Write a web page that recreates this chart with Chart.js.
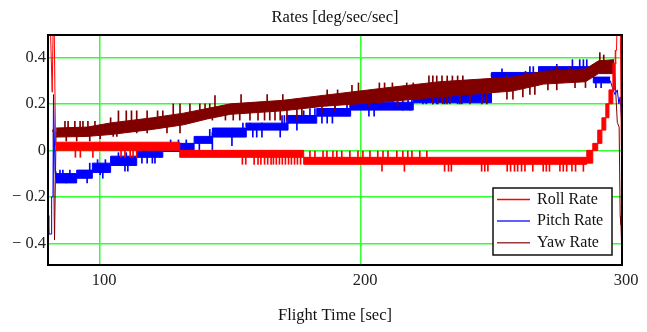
<!DOCTYPE html>
<html lang="en">
<head>
<meta charset="UTF-8">
<title>Rates [deg/sec/sec]</title>
<script src="https://cdn.jsdelivr.net/npm/chart.js"></script>
<style>
    html, body { margin: 0; padding: 0; background: #fff; }
    #wrap { position: relative; width: 647px; height: 332px; }
</style>
</head>
<body>
<div id="wrap"><canvas id="ratesChart"></canvas></div>
<script>
// ---- data (time in sec, rates in deg/sec/sec) ----
const xTicks = [100, 200, 300];
const yTicks = [-0.4, -0.2, 0, 0.2, 0.4];

// Roll Rate
const rollStartT = [80.5, 81.6, 82.2, 82.9];
const rollStartV = [0.7, 0.25, 0.7, 0.02];
const rollBandT  = [82.9, 130.5, 178, 286.5, 288.8, 290.7, 292.3, 293.8, 295, 296.5, 297.4, 297.9];
const rollBandLo = [0.0, -0.03, -0.06, -0.055, 0.0, 0.03, 0.087, 0.14, 0.2, 0.26, 0.375, 0.375];
const rollBandHi = [0.035, 0.0, -0.03, 0.0, 0.03, 0.087, 0.14, 0.2, 0.26, 0.375, 0.43, 0.43];
const rollEndT   = [297.9, 298.3, 299.3, 300];
const rollEndV   = [0.43, 0.65, 0.62, -0.35];
const rollSpikes = [
    [90.5, -0.03], [92.4, -0.03], [97.2, -0.03], [108, -0.03], [109.5, -0.03], [111.5, -0.03], [112.6, -0.03], [114, -0.03],
    [154.5, -0.06], [155.8, -0.06], [159, -0.06], [160.5, -0.06], [161.6, -0.06], [163, -0.06], [164.2, -0.06], [165.5, -0.06],
    [166.4, -0.06], [167.5, -0.06], [168.7, -0.06], [169.8, -0.06], [171, -0.06], [172.2, -0.06], [173.3, -0.06], [174.5, -0.06],
    [175.6, -0.06], [176.8, -0.06],
    [180.4, 0.0], [182.3, 0.0], [185.4, 0.0], [186.9, 0.0], [189.2, 0.0], [190.7, 0.0], [192.6, 0.0], [195.7, 0.0], [198.8, 0.0],
    [200.7, 0.0], [203.4, 0.0], [206.4, 0.0], [208.4, 0.0], [210.3, 0.0], [213.7, 0.0], [216, 0.0], [217.9, 0.0], [219.5, 0.0],
    [222.5, 0.0], [225.2, 0.0],
    [208, -0.09], [216.6, -0.09], [232, -0.09], [233.5, -0.09], [234.6, -0.09], [246.2, -0.09], [247.4, -0.09], [248.6, -0.09],
    [256, -0.09], [257.3, -0.09], [258.8, -0.09], [260, -0.09], [261.5, -0.09], [262.8, -0.09], [265.8, -0.09], [269.8, -0.09],
    [271, -0.09], [272.2, -0.09], [276.2, -0.09], [277.5, -0.09], [278.8, -0.09], [280.8, -0.09], [282.2, -0.09], [285.2, -0.09]
];

// Pitch Rate
const pitchStartT = [80, 80.3, 81.2, 81.4, 81.9, 82.1, 82.7, 83];
const pitchStartV = [-0.28, -0.36, -0.36, -0.2, -0.2, 0.24, -0.09, -0.12];
const pitchBandT  = [83, 91, 97, 104, 114, 124, 136, 143, 156, 172, 183, 196, 220, 250, 268, 289, 295.5];
const pitchBandLo = [-0.14, -0.12, -0.095, -0.065, -0.03, -0.005, 0.03, 0.057, 0.087, 0.117, 0.147, 0.173, 0.205, 0.3, 0.32, 0.29, 0.29];
const pitchBandHi = [-0.1, -0.085, -0.055, -0.025, 0.0, 0.03, 0.06, 0.096, 0.117, 0.15, 0.18, 0.207, 0.245, 0.335, 0.36, 0.315, 0.315];
const pitchEndT   = [295.5, 296.3, 297.3, 298.2, 298.8, 299.3, 300];
const pitchEndV   = [0.3, 0.27, 0.24, 0.26, 0.2, 0.23, 0.09];
const pitchSpikes = [
    [84.6, -0.085], [85.7, -0.085], [88.4, -0.085], [96, -0.055], [99, -0.04], [102, -0.04], [107, -0.01], [110, -0.01],
    [117, 0.015], [120, 0.015], [127, 0.045], [130, 0.045], [133, 0.045], [142, 0.09], [143.5, 0.09], [144.7, 0.09],
    [147.8, 0.09], [149, 0.09], [154.7, 0.117], [156, 0.117], [157.4, 0.117], [162, 0.117], [169.7, 0.15], [170.6, 0.15],
    [171.6, 0.15], [178, 0.17], [180.4, 0.18], [182.3, 0.18], [190, 0.19], [194.6, 0.207], [195.8, 0.207], [197, 0.207],
    [205, 0.23], [212, 0.23], [216, 0.23], [218, 0.23], [219.5, 0.23], [240, 0.3], [243, 0.3], [250, 0.33], [252, 0.33],
    [254, 0.35], [264.7, 0.36], [266, 0.36], [275, 0.37], [281, 0.39], [283.8, 0.39], [285.2, 0.39], [286.5, 0.39],
    [87, -0.14], [95, -0.14], [100, -0.105], [101, -0.12], [109.5, -0.09], [110.6, -0.09], [116, -0.055], [118, -0.055],
    [120, -0.055], [121, -0.055], [138, 0.0], [143, 0.0], [150.5, 0.02], [158.5, 0.057], [160, 0.057], [162, 0.057],
    [169, 0.057], [175.4, 0.087], [185, 0.117], [187, 0.117], [189, 0.117], [203, 0.147], [205, 0.147], [216, 0.173],
    [218.7, 0.173], [223.7, 0.2], [225, 0.2], [227.5, 0.2], [229, 0.2], [232, 0.2], [237, 0.2], [238.6, 0.2],
    [262, 0.29], [272, 0.3], [284, 0.31], [290, 0.27], [292, 0.27]
];

// Yaw Rate (band edges joined by straight lines, it drifts up smoothly)
const yawStartT = [81.7, 82.0, 82.5, 83.1];
const yawStartV = [0.08, 0.09, -0.385, 0.08];
const yawBandT  = [83.1, 95, 104, 120, 132, 141, 150, 170, 186, 209, 230, 258, 270, 286, 291, 297];
const yawBandLo = [0.057, 0.06, 0.068, 0.09, 0.11, 0.135, 0.155, 0.17, 0.19, 0.208, 0.23, 0.255, 0.285, 0.295, 0.33, 0.33];
const yawBandHi = [0.096, 0.1, 0.118, 0.14, 0.16, 0.18, 0.2, 0.215, 0.237, 0.268, 0.295, 0.315, 0.34, 0.35, 0.385, 0.39];
const yawEndT   = [297, 297.6, 298.2, 298.9, 299.3, 299.6, 300];
const yawEndV   = [0.36, 0.25, 0.12, 0.1, -0.28, -0.32, -0.47];
const yawSpikes = [
    [86.5, 0.125], [87.7, 0.125], [90.3, 0.125], [92.3, 0.125], [93.4, 0.125], [95.3, 0.125], [98, 0.125], [104, 0.14],
    [107, 0.17], [110, 0.17], [112, 0.17], [114, 0.17], [118, 0.17], [122, 0.17], [124, 0.17], [128, 0.2], [130.6, 0.2],
    [134.4, 0.2], [138.2, 0.2], [140.2, 0.2], [142, 0.2], [144, 0.235], [154, 0.24], [164, 0.24], [170, 0.24], [187, 0.26],
    [191, 0.26], [196.5, 0.28], [199, 0.29], [207, 0.29], [209, 0.29], [212, 0.29], [217.5, 0.29], [220, 0.29], [226, 0.32],
    [227.5, 0.32], [229, 0.32], [231, 0.32], [233, 0.32], [235, 0.32], [237, 0.32], [239, 0.32], [256, 0.33], [263, 0.34],
    [275, 0.36], [280, 0.36], [291.5, 0.42], [293, 0.41],
    [87, 0.04], [91, 0.04], [96, 0.04], [100, 0.05], [105, 0.06], [106.4, 0.06], [114, 0.075], [118, 0.075], [125.6, 0.075],
    [130.6, 0.075], [143, 0.13], [148, 0.13], [151, 0.13], [153.5, 0.13], [157.4, 0.13], [160.5, 0.13], [163, 0.13],
    [165, 0.13], [167, 0.13], [169, 0.13], [171.6, 0.13], [175.4, 0.13], [177.3, 0.15], [185, 0.16], [190, 0.17], [203, 0.19],
    [214, 0.19], [227.5, 0.2], [229.4, 0.2], [231.3, 0.2], [232.9, 0.2], [234, 0.2], [237.9, 0.2], [241.7, 0.2], [246.3, 0.2],
    [248.2, 0.2], [255.9, 0.22], [258.2, 0.22], [262, 0.23], [264.7, 0.24], [266.6, 0.24], [271.6, 0.26], [275, 0.26], [282, 0.27],
    [286, 0.27]
];

const legendItems = [
    { label: 'Roll Rate',  color: '#ff0000' },
    { label: 'Pitch Rate', color: '#2a2aff' },
    { label: 'Yaw Rate',   color: '#9a3a3a' }
];

// ---- helpers ----
const serif = "'Liberation Serif', 'Times New Roman', serif";

function pts(T, V) {
    return T.map((t, i) => ({ x: t, y: V[i] }));
}
// centre of the noise band at time t, used as the foot of each spike
function bandMid(T, Lo, Hi, t) {
    let i = 0;
    while (i < T.length - 1 && T[i + 1] <= t) i++;
    return (Lo[i] + Hi[i]) / 2;
}

function seriesSets(color, stepped, startT, startV, bandT, bandLo, bandHi, spikes, endT, endV) {
    const ln = { type: 'line', borderColor: color, borderWidth: 1, pointRadius: 0, tension: 0, fill: false };
    return [
        { ...ln, data: pts(startT, startV) },
        { ...ln, data: pts(endT, endV) },
        {
            type: 'bar', grouped: false, barThickness: 1, backgroundColor: color, borderWidth: 0,
            data: spikes.map(([t, v]) => ({ x: t, y: [bandMid(bandT, bandLo, bandHi, t), v] }))
        },
        { ...ln, stepped, data: pts(bandT, bandLo) },
        { ...ln, stepped, fill: '-1', backgroundColor: color, data: pts(bandT, bandHi) }
    ];
}

// first dataset ends up on top: roll, then yaw, then pitch
const datasets = [
    ...seriesSets('#ff0000', true, rollStartT, rollStartV, rollBandT, rollBandLo, rollBandHi, rollSpikes, rollEndT, rollEndV),
    ...seriesSets('#800000', false, yawStartT, yawStartV, yawBandT, yawBandLo, yawBandHi, yawSpikes, yawEndT, yawEndV),
    ...seriesSets('#0000ff', true, pitchStartT, pitchStartV, pitchBandT, pitchBandLo, pitchBandHi, pitchSpikes, pitchEndT, pitchEndV)
];

// frame, title and legend box
const decorations = {
    id: 'decorations',
    afterDraw(chart) {
        const { ctx, chartArea: a } = chart;
        ctx.save();
        ctx.strokeStyle = '#000';
        ctx.lineWidth = 2;
        ctx.strokeRect(a.left, a.top, a.right - a.left, a.bottom - a.top);

        ctx.fillStyle = '#111';
        ctx.font = '16.5px ' + serif;
        ctx.textAlign = 'center';
        ctx.textBaseline = 'middle';
        ctx.fillText('Rates [deg/sec/sec]', (a.left + a.right) / 2, 18);

        const bw = 119, bh = 67;
        const bx = a.right - 10 - bw, by = a.bottom - 10 - bh;
        ctx.fillStyle = '#fff';
        ctx.fillRect(bx, by, bw, bh);
        ctx.lineWidth = 1.5;
        ctx.strokeStyle = '#111';
        ctx.strokeRect(bx, by, bw, bh);
        ctx.textAlign = 'left';
        ctx.font = '16px ' + serif;
        legendItems.forEach((it, i) => {
            const y = by + 11.5 + i * 21.6;
            ctx.strokeStyle = it.color;
            ctx.lineWidth = 1.5;
            ctx.beginPath();
            ctx.moveTo(bx + 4, y);
            ctx.lineTo(bx + 37, y);
            ctx.stroke();
            ctx.fillStyle = '#111';
            ctx.fillText(it.label, bx + 44, y);
        });
        ctx.restore();
    }
};

new Chart(document.getElementById('ratesChart'), {
    type: 'line',
    data: { datasets },
    plugins: [decorations],
    options: {
        responsive: true,
        maintainAspectRatio: false,
        animation: false,
        events: [],
        layout: { padding: { top: 35, right: 25, left: 0, bottom: 0 } },
        plugins: { legend: { display: false }, tooltip: { enabled: false } },
        scales: {
            x: {
                type: 'linear', min: 80, max: 300, offset: false,
                afterBuildTicks: s => { s.ticks = xTicks.map(v => ({ value: v })); },
                afterFit: s => { s.height = 67; },
                grid: { color: '#33ff33', lineWidth: 1.5, drawTicks: false, offset: false },
                border: { display: false },
                ticks: { color: '#222', font: { family: serif, size: 16.5 }, padding: 6, labelOffset: 4, maxRotation: 0 },
                title: { display: true, text: 'Flight Time [sec]', color: '#111', font: { family: serif, size: 16.5 }, padding: { top: 0, bottom: 6 } }
            },
            y: {
                type: 'linear', min: -0.493, max: 0.496,
                afterBuildTicks: s => { s.ticks = yTicks.map(v => ({ value: v })); },
                afterFit: s => { s.width = 48; },
                grid: { color: '#33ff33', lineWidth: 1.5, drawTicks: false },
                border: { display: false },
                ticks: {
                    color: '#222', font: { family: serif, size: 16.5 }, padding: 2,
                    callback: v => v < 0 ? '\u2212 ' + Math.abs(v).toFixed(1) : (v === 0 ? '0' : v.toFixed(1))
                }
            }
        }
    }
});
</script>
</body>
</html>
